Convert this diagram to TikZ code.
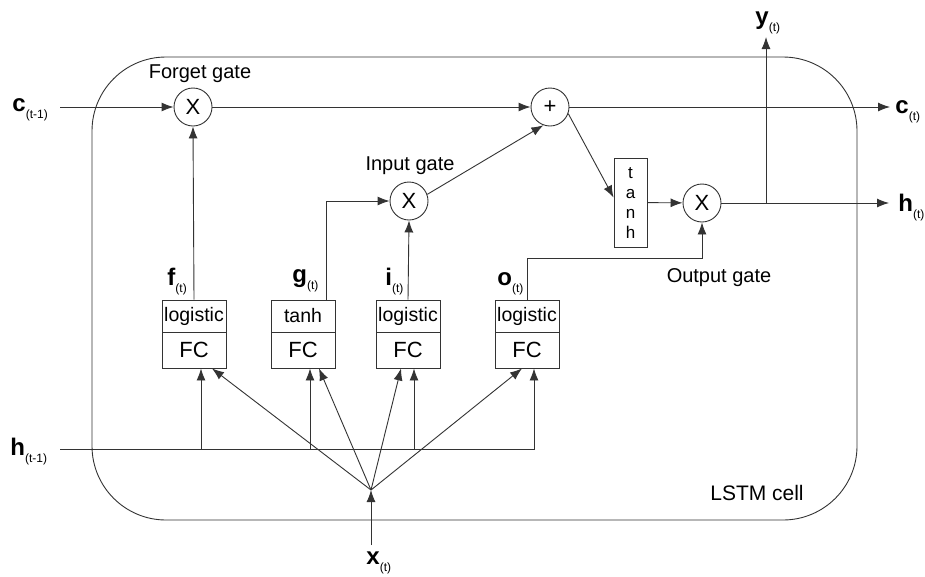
\documentclass[tikz,border=0pt]{standalone}
\usepackage{fontspec}
\setmainfont{Liberation Sans}
\usetikzlibrary{arrows.meta,calc}
\newcommand\vlab[2]{{\fontsize{24}{24}\selectfont\bfseries #1}\raisebox{-7pt}{\fontsize{12}{12}\selectfont(#2)}}
\begin{document}
\begin{tikzpicture}[x=1pt,y=-1pt,
  line width=0.9pt, draw=black!80,
  arr/.style={-{Latex[length=12pt,width=9pt]}},
  gate/.style={circle,draw,minimum size=38pt,inner sep=0pt,font=\fontsize{22}{22}\selectfont},
  lab/.style={font=\fontsize{20}{20}\selectfont,inner sep=0pt,anchor=base},
  topbox/.style={draw,minimum width=64pt,minimum height=32pt,inner sep=0pt,font=\fontsize{19.5}{19.5}\selectfont},
  fcbox/.style={draw,minimum width=64pt,minimum height=36pt,inner sep=0pt,font=\fontsize{22}{22}\selectfont},
  var/.style={inner sep=0pt,anchor=base west},
]
\useasboundingbox (0,0) rectangle (925,576);
\fill[white] (0,0) rectangle (925,576);
% cell
\draw[rounded corners=74pt] (92,57) rectangle (857,520);
% gates
\node[gate] (fx) at (193,107) {X};
\node[gate] (plus) at (550,107) {+};
\node[gate] (ix) at (409,201) {X};
\node[gate] (ox) at (702,203) {X};
\node[draw,minimum width=33pt,minimum height=89pt,inner sep=0pt,align=center,font=\fontsize{17}{20}\selectfont] (th) at (630.5,202.5) {t\\a\\n\\h};
% boxes
\node[topbox] (ft) at (194,316) {logistic};
\node[fcbox]  (fb) at (194,350) {FC};
\node[topbox] (gt) at (303,316) {tanh};
\node[fcbox]  (gb) at (303,350) {FC};
\node[topbox] (it) at (408,316) {logistic};
\node[fcbox]  (ib) at (408,350) {FC};
\node[topbox] (ot) at (527,316) {logistic};
\node[fcbox]  (ob) at (527,350) {FC};
% text labels
\node[lab] (lf) at (200,78) {Forget gate};
\node[lab] (li) at (410,170) {Input gate};
\node[lab] (lo) at (719,282) {Output gate};
\node[lab,font=\fontsize{21}{21}\selectfont] (lc) at (757,500) {LSTM cell};
% variable labels
\node[var] (cin) at (12,111) {\vlab{c}{t-1}};
\node[var] (hin) at (10,455) {\vlab{h}{t-1}};
\node[var] (xin) at (366,564) {\vlab{x}{t}};
\node[var] (yout) at (755,24) {\vlab{y}{t}};
\node[var] (cout) at (895,113) {\vlab{c}{t}};
\node[var] (hout) at (898,211) {\vlab{h}{t}};
\node[var] (fl) at (167,285) {\vlab{f}{t}};
\node[var] (gl) at (292,282) {\vlab{g}{t}};
\node[var] (il) at (385,285) {\vlab{i}{t}};
\node[var] (ol) at (497,285) {\vlab{o}{t}};
% coordinates
\coordinate (c0) at (60,107);
\coordinate (c1) at (890,107);
\coordinate (h1) at (889,203);
\coordinate (yb) at (766,203);
\coordinate (yt) at (766,37);
\coordinate (h0) at (60,449);
\coordinate (hf) at (201,449);
\coordinate (hg) at (310,449);
\coordinate (hi) at (414,449);
\coordinate (ho) at (534,449);
\coordinate (xf) at (371,490);
\coordinate (x0) at (371,545);
% cell state
\draw[arr] (c0) -- (fx);
\draw[arr] (fx) -- (plus);
\draw[arr] (plus) -- (c1);
\draw[arr] (plus.-20) -- ($(th.west)+(0,-5)$);
\draw[arr] (ix.20) -- (plus.-110);
\draw[arr] (th) -- (ox);
\draw[arr] (ox) -- (h1);
\draw[arr] (yb) -- (yt);
% gate outputs
\draw[arr] (ft.north) -- (fx.south);
\draw[arr] ($(gt.north)+(23,0)$) |- (ix.west);
\draw[arr] (it.north) -- (ix.south);
\draw[arr] (ot.north) -- ++(0,-41) -| (ox.south);
% h(t-1) inputs
\draw[arr] (h0) -- (ho) -- (ho |- ob.south);
\draw[arr] (hf) -- (hf |- fb.south);
\draw[arr] (hg) -- (hg |- gb.south);
\draw[arr] (hi) -- (hi |- ib.south);
% x(t) inputs
\draw[arr] (x0) -- (xf);
\draw[arr] (xf) -- ($(fb.south)+(18,0)$);
\draw[arr] (xf) -- ($(gb.south)+(16,0)$);
\draw[arr] (xf) -- ($(ib.south)+(-7,0)$);
\draw[arr] (xf) -- ($(ob.south)+(-5,0)$);
\end{tikzpicture}
\end{document}
